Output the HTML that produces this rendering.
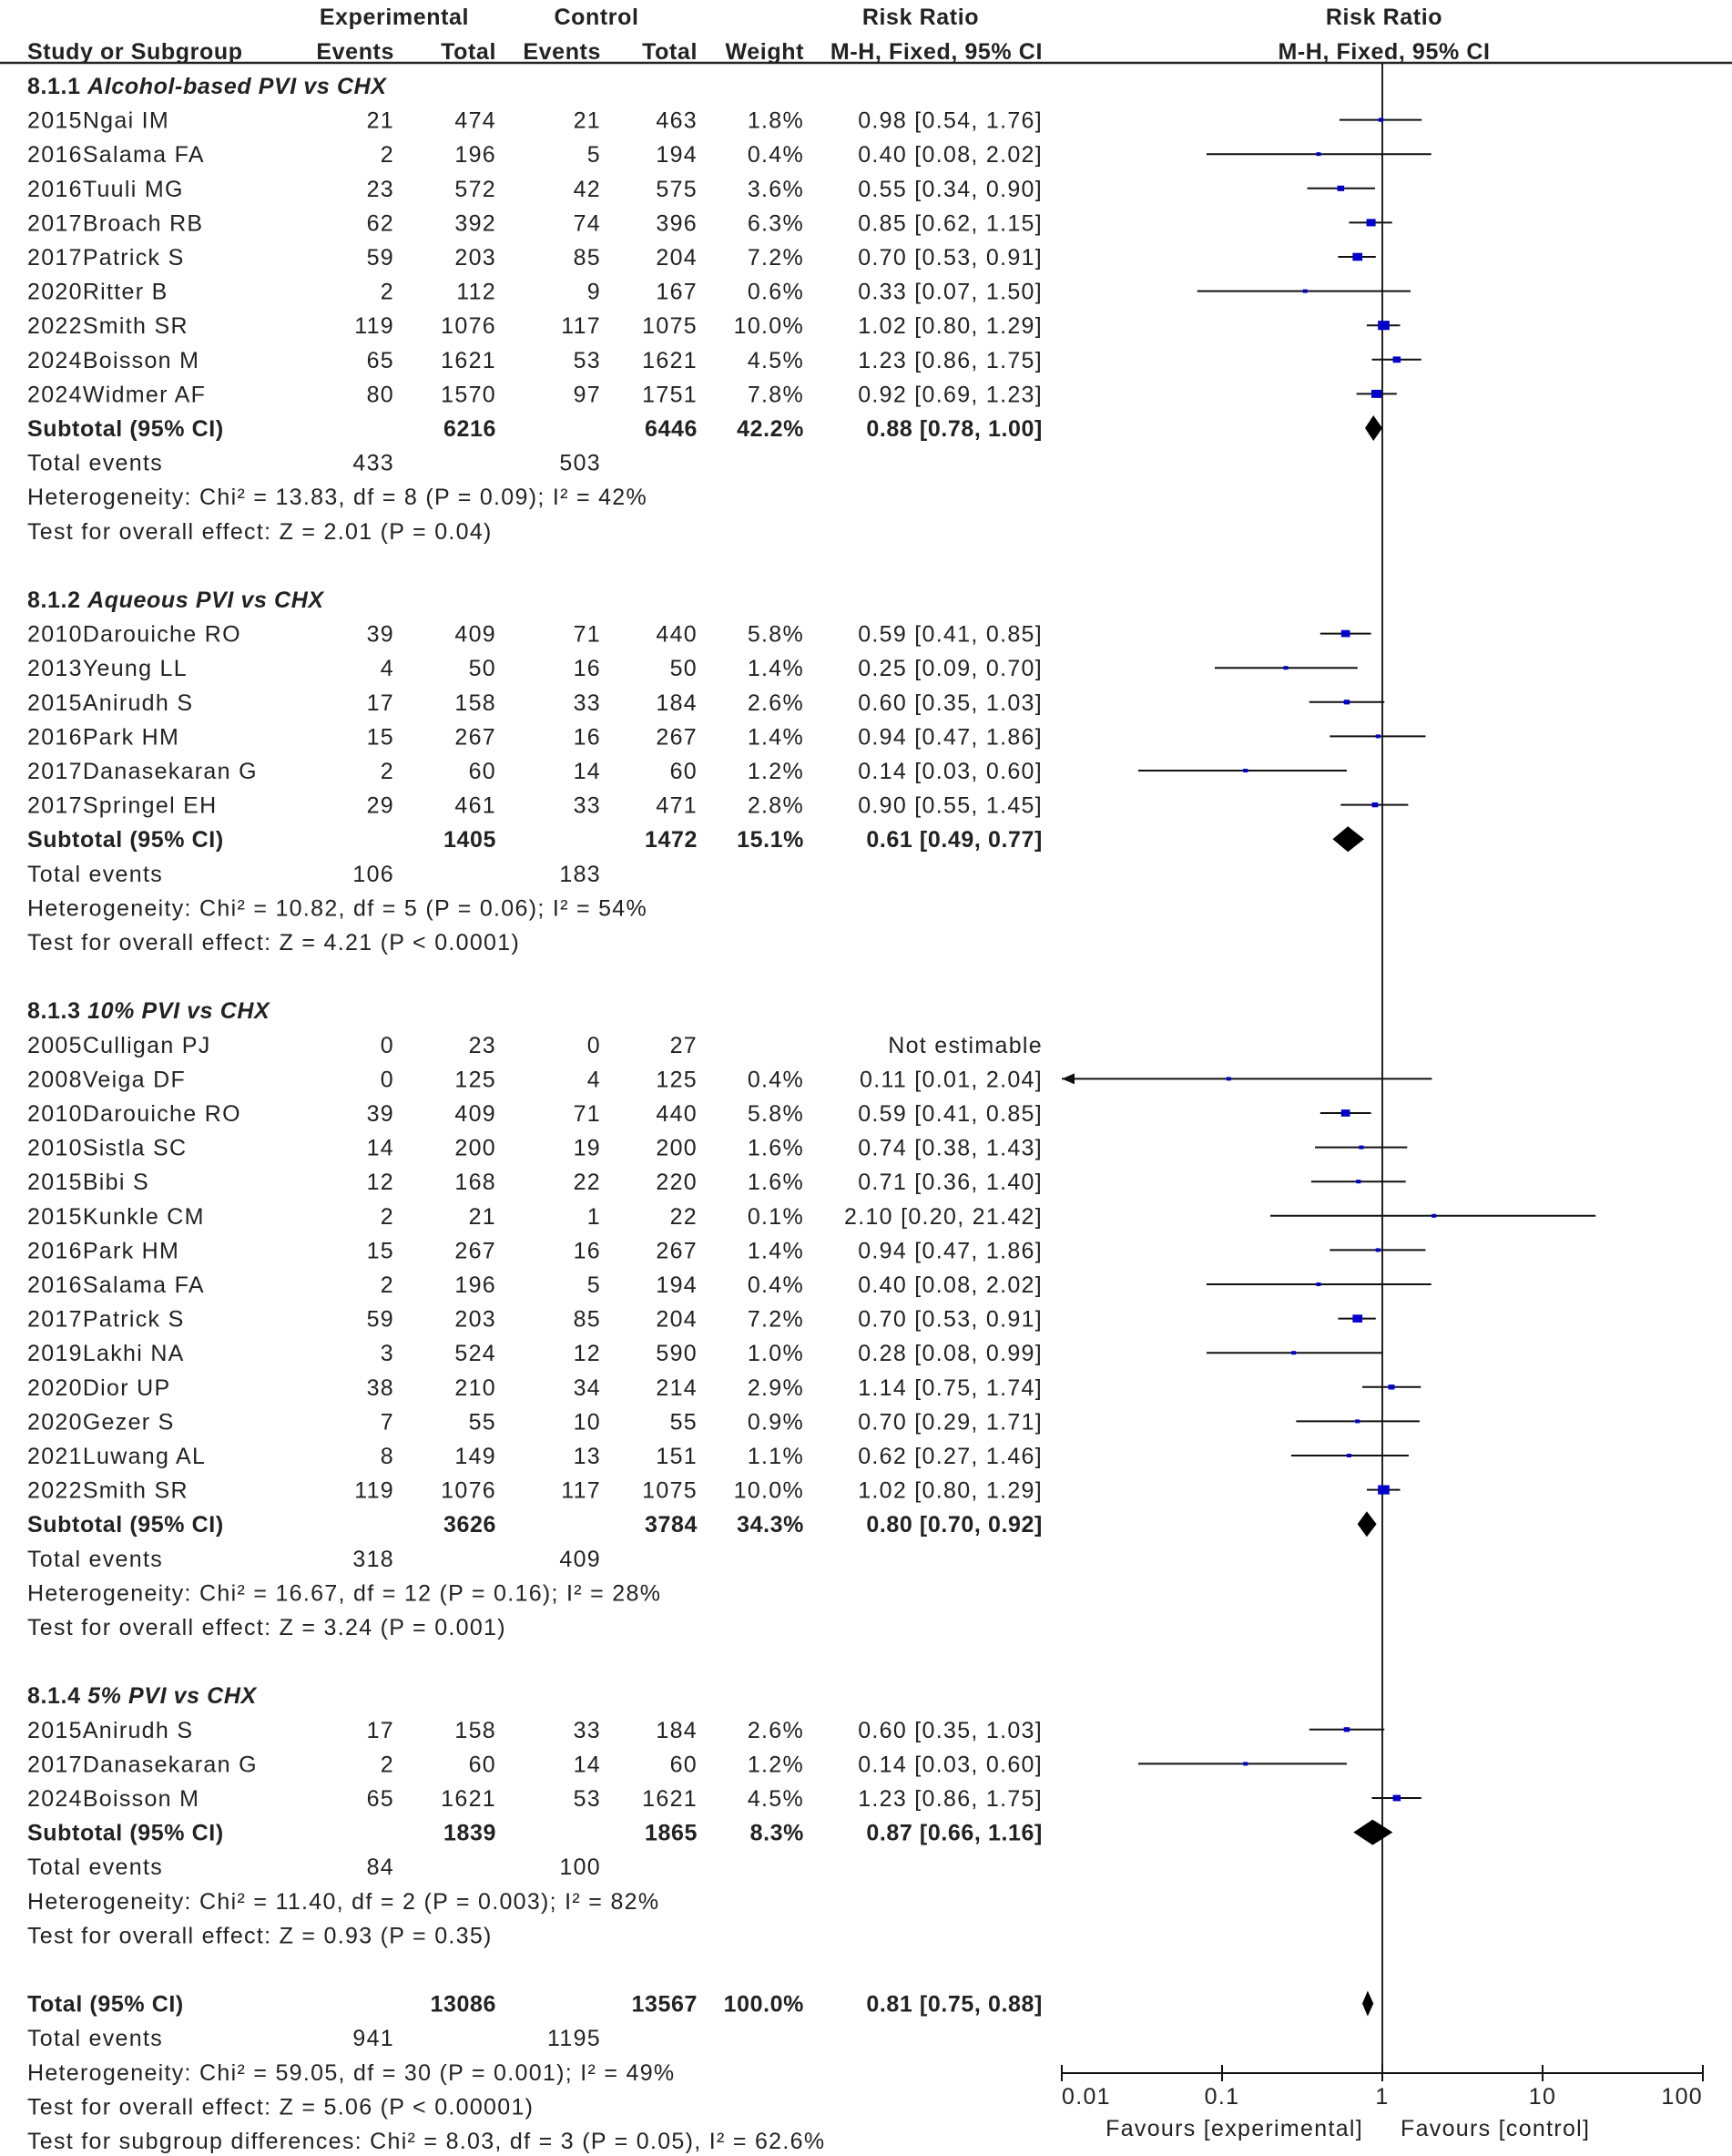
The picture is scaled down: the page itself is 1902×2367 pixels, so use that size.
<!DOCTYPE html>
<html><head><meta charset="utf-8"><style>
html,body{margin:0;padding:0;background:#fff}
svg{display:block}
text{font-family:"Liberation Sans",Arial,sans-serif;font-size:25px;fill:#222;letter-spacing:1.3px}
.b{font-weight:bold;letter-spacing:0.6px}
</style></head><body>
<svg id="c" width="1902" height="2367" viewBox="0 0 1902 2367"></svg>
<script>
// ---- data ----
const groupTitles = ["Alcohol-based PVI vs CHX","Aqueous PVI vs CHX","10% PVI vs CHX","5% PVI vs CHX"];
const groupNums = ["8.1.1","8.1.2","8.1.3","8.1.4"];
const studyNames = [
 ["2015Ngai IM","2016Salama FA","2016Tuuli MG","2017Broach RB","2017Patrick S","2020Ritter  B","2022Smith SR","2024Boisson  M","2024Widmer AF"],
 ["2010Darouiche RO","2013Yeung LL","2015Anirudh S","2016Park HM","2017Danasekaran G","2017Springel EH"],
 ["2005Culligan PJ","2008Veiga DF","2010Darouiche RO","2010Sistla SC","2015Bibi S","2015Kunkle CM","2016Park HM","2016Salama FA","2017Patrick S","2019Lakhi NA","2020Dior UP","2020Gezer  S","2021Luwang AL","2022Smith SR"],
 ["2015Anirudh S","2017Danasekaran G","2024Boisson  M"]
];
const expEvents = [[21,2,23,62,59,2,119,65,80],[39,4,17,15,2,29],[0,0,39,14,12,2,15,2,59,3,38,7,8,119],[17,2,65]];
const expTotal = [[474,196,572,392,203,112,1076,1621,1570],[409,50,158,267,60,461],[23,125,409,200,168,21,267,196,203,524,210,55,149,1076],[158,60,1621]];
const ctlEvents = [[21,5,42,74,85,9,117,53,97],[71,16,33,16,14,33],[0,4,71,19,22,1,16,5,85,12,34,10,13,117],[33,14,53]];
const ctlTotal = [[463,194,575,396,204,167,1075,1621,1751],[440,50,184,267,60,471],[27,125,440,200,220,22,267,194,204,590,214,55,151,1075],[184,60,1621]];
const weights = [[1.8,0.4,3.6,6.3,7.2,0.6,10.0,4.5,7.8],[5.8,1.4,2.6,1.4,1.2,2.8],[null,0.4,5.8,1.6,1.6,0.1,1.4,0.4,7.2,1.0,2.9,0.9,1.1,10.0],[2.6,1.2,4.5]];
const rr = [[0.98,0.40,0.55,0.85,0.70,0.33,1.02,1.23,0.92],[0.59,0.25,0.60,0.94,0.14,0.90],[null,0.11,0.59,0.74,0.71,2.10,0.94,0.40,0.70,0.28,1.14,0.70,0.62,1.02],[0.60,0.14,1.23]];
const lo = [[0.54,0.08,0.34,0.62,0.53,0.07,0.80,0.86,0.69],[0.41,0.09,0.35,0.47,0.03,0.55],[null,0.01,0.41,0.38,0.36,0.20,0.47,0.08,0.53,0.08,0.75,0.29,0.27,0.80],[0.35,0.03,0.86]];
const hi = [[1.76,2.02,0.90,1.15,0.91,1.50,1.29,1.75,1.23],[0.85,0.70,1.03,1.86,0.60,1.45],[null,2.04,0.85,1.43,1.40,21.42,1.86,2.02,0.91,0.99,1.74,1.71,1.46,1.29],[1.03,0.60,1.75]];
const subExpTotal = [6216,1405,3626,1839];
const subCtlTotal = [6446,1472,3784,1865];
const subWeight = [42.2,15.1,34.3,8.3];
const subRR = [0.88,0.61,0.80,0.87];
const subLo = [0.78,0.49,0.70,0.66];
const subHi = [1.00,0.77,0.92,1.16];
const subExpEv = [433,106,318,84];
const subCtlEv = [503,183,409,100];
const hetText = ["Heterogeneity: Chi² = 13.83, df = 8 (P = 0.09); I² = 42%","Heterogeneity: Chi² = 10.82, df = 5 (P = 0.06); I² = 54%","Heterogeneity: Chi² = 16.67, df = 12 (P = 0.16); I² = 28%","Heterogeneity: Chi² = 11.40, df = 2 (P = 0.003); I² = 82%"];
const effText = ["Test for overall effect: Z = 2.01 (P = 0.04)","Test for overall effect: Z = 4.21 (P < 0.0001)","Test for overall effect: Z = 3.24 (P = 0.001)","Test for overall effect: Z = 0.93 (P = 0.35)"];
const totalVals = {expT:13086, ctlT:13567, rr:0.81, lo:0.75, hi:0.88, expEv:941, ctlEv:1195};
const axisTicks = [0.01,0.1,1,10,100];
const axisTickLabels = ["0.01","0.1","1","10","100"];

// ---- layout ----
const svg = document.getElementById('c');
const NS = 'http://www.w3.org/2000/svg';
const y0 = 94, step = 37.6;
const rowY = i => y0 + step*i;
const xScale = v => 1518 + 176*Math.log10(v);
const XMIN = 1166, XMAX = 1870;
const COL = {name:30, ee:433, et:545, ce:660, ct:766, w:883, ci:1145};

function txt(x,y,s,anchor,name,cls){
  const t=document.createElementNS(NS,'text');
  t.setAttribute('x',x);t.setAttribute('y',y+9);
  if(anchor)t.setAttribute('text-anchor',anchor);
  if(cls)t.setAttribute('class',cls);
  t.textContent=s;
  
  
  svg.appendChild(t);return t;
}
function el(tag,attrs,name){
  const e=document.createElementNS(NS,tag);
  for(const k in attrs)e.setAttribute(k,attrs[k]);
  
  
  svg.appendChild(e);return e;
}
const f2=v=>v.toFixed(2);
const ciStr=(r,l,h)=>`${f2(r)} [${f2(l)}, ${f2(h)}]`;

// header
txt(433,18,"Experimental","middle","header-experimental","b");
txt(655,18,"Control","middle","header-control","b");
txt(1011,18,"Risk Ratio","middle","header-risk-ratio","b");
txt(1520,18,"Risk Ratio","middle","header-plot-risk-ratio","b");
txt(COL.name,56,"Study or Subgroup",null,"header-study","b");
txt(COL.ee,56,"Events","end","header-exp-events","b");
txt(COL.et,56,"Total","end","header-exp-total","b");
txt(COL.ce,56,"Events","end","header-ctl-events","b");
txt(COL.ct,56,"Total","end","header-ctl-total","b");
txt(COL.w,56,"Weight","end","header-weight","b");
txt(COL.ci,56,"M-H, Fixed, 95% CI","end","header-ci","b");
txt(1520,56,"M-H, Fixed, 95% CI","middle","header-plot-ci","b");
el('line',{x1:0,y1:69,x2:1902,y2:69,stroke:'#222','stroke-width':2.5},'header-rule');
// null line
el('line',{x1:xScale(1),y1:69,x2:xScale(1),y2:2276,stroke:'#222','stroke-width':2},'null-line');

function diamond(y,r,l,h,name){
  const hh=14;
  el('polygon',{points:`${xScale(l)},${y} ${xScale(r)},${y-hh} ${xScale(h)},${y} ${xScale(r)},${y+hh}`,fill:'#000'},name);
}

let row=0;
for(let g=0;g<4;g++){
  const y=rowY(row);
  const t=txt(COL.name,y,groupNums[g]+" ",null,"subgroup-heading-"+(g+1),"b");
  const ts=document.createElementNS(NS,'tspan');ts.setAttribute('font-style','italic');ts.textContent=groupTitles[g];t.appendChild(ts);
  row++;
  for(let s=0;s<studyNames[g].length;s++){
    const yy=rowY(row);
    const nm='g'+(g+1)+'-study-'+(s+1);
    txt(COL.name,yy,studyNames[g][s],null,nm+'-name');
    txt(COL.ee,yy,String(expEvents[g][s]),'end',nm+'-exp-events');
    txt(COL.et,yy,String(expTotal[g][s]),'end',nm+'-exp-total');
    txt(COL.ce,yy,String(ctlEvents[g][s]),'end',nm+'-ctl-events');
    txt(COL.ct,yy,String(ctlTotal[g][s]),'end',nm+'-ctl-total');
    if(rr[g][s]===null){
      txt(COL.ci,yy,"Not estimable",'end',nm+'-ci');
    } else {
      txt(COL.w,yy,weights[g][s].toFixed(1)+"%",'end',nm+'-weight');
      txt(COL.ci,yy,ciStr(rr[g][s],lo[g][s],hi[g][s]),'end',nm+'-ci');
      let x1=xScale(lo[g][s]),x2=xScale(hi[g][s]);
      const clipL=x1<=XMIN+0.5, clipR=x2>=XMAX-0.5;
      x1=Math.max(x1,XMIN);x2=Math.min(x2,XMAX);
      el('line',{x1:x1,y1:yy,x2:x2,y2:yy,stroke:'#111','stroke-width':2},nm+'-ci-line');
      if(clipL) el('polygon',{points:`${XMIN},${yy} ${XMIN+14},${yy-6} ${XMIN+14},${yy+6}`,fill:'#111'},nm+'-arrow');
      if(clipR) el('polygon',{points:`${XMAX},${yy} ${XMAX-14},${yy-6} ${XMAX-14},${yy+6}`,fill:'#111'},nm+'-arrow');
      const sz=Math.max(5,4*Math.sqrt(weights[g][s]));
      el('rect',{x:xScale(rr[g][s])-sz/2,y:yy-sz*0.4,width:sz,height:sz*0.8,fill:'#0000cc'},nm+'-point');
    }
    row++;
  }
  const ys=rowY(row);
  txt(COL.name,ys,"Subtotal (95% CI)",null,'g'+(g+1)+'-subtotal-label','b');
  txt(COL.et,ys,String(subExpTotal[g]),'end','g'+(g+1)+'-subtotal-exp-total','b');
  txt(COL.ct,ys,String(subCtlTotal[g]),'end','g'+(g+1)+'-subtotal-ctl-total','b');
  txt(COL.w,ys,subWeight[g].toFixed(1)+"%",'end','g'+(g+1)+'-subtotal-weight','b');
  txt(COL.ci,ys,ciStr(subRR[g],subLo[g],subHi[g]),'end','g'+(g+1)+'-subtotal-ci','b');
  diamond(ys,subRR[g],subLo[g],subHi[g],'g'+(g+1)+'-subtotal-diamond');
  row++;
  const ye=rowY(row);
  txt(COL.name,ye,"Total events",null,'g'+(g+1)+'-total-events-label');
  txt(COL.ee,ye,String(subExpEv[g]),'end','g'+(g+1)+'-total-exp-events');
  txt(COL.ce,ye,String(subCtlEv[g]),'end','g'+(g+1)+'-total-ctl-events');
  row++;
  txt(COL.name,rowY(row),hetText[g],null,'g'+(g+1)+'-heterogeneity');row++;
  txt(COL.name,rowY(row),effText[g],null,'g'+(g+1)+'-overall-effect');row++;
  row++;
}
// overall
let yt=rowY(row);
txt(COL.name,yt,"Total (95% CI)",null,'total-label','b');
txt(COL.et,yt,String(totalVals.expT),'end','total-exp-total','b');
txt(COL.ct,yt,String(totalVals.ctlT),'end','total-ctl-total','b');
txt(COL.w,yt,"100.0%",'end','total-weight','b');
txt(COL.ci,yt,ciStr(totalVals.rr,totalVals.lo,totalVals.hi),'end','total-ci','b');
diamond(yt,totalVals.rr,totalVals.lo,totalVals.hi,'total-diamond');
row++;
yt=rowY(row);
txt(COL.name,yt,"Total events",null,'overall-events-label');
txt(COL.ee,yt,String(totalVals.expEv),'end','overall-exp-events');
txt(COL.ce,yt,String(totalVals.ctlEv),'end','overall-ctl-events');
row++;
txt(COL.name,rowY(row),"Heterogeneity: Chi² = 59.05, df = 30 (P = 0.001); I² = 49%",null,'overall-heterogeneity');row++;
txt(COL.name,rowY(row),"Test for overall effect: Z = 5.06 (P < 0.00001)",null,'overall-effect');row++;
txt(COL.name,rowY(row),"Test for subgroup differences: Chi² = 8.03, df = 3 (P = 0.05), I² = 62.6%",null,'subgroup-differences');

// axis
const ay=2276;
el('line',{x1:XMIN,y1:ay,x2:XMAX,y2:ay,stroke:'#111','stroke-width':2},'x-axis');
axisTicks.forEach((v,i)=>{
  const x=xScale(v);
  el('line',{x1:x,y1:ay-9,x2:x,y2:ay+9,stroke:'#111','stroke-width':2},'x-tick-'+axisTickLabels[i]);
  const anc=i===0?'start':(i===axisTicks.length-1?'end':'middle');
  txt(x,2301,axisTickLabels[i],anc,'x-tick-label-'+axisTickLabels[i]);
});
txt(1497,2336,"Favours [experimental]",'end','favours-experimental');
txt(1538,2336,"Favours [control]",null,'favours-control');
</script>
</body></html>
